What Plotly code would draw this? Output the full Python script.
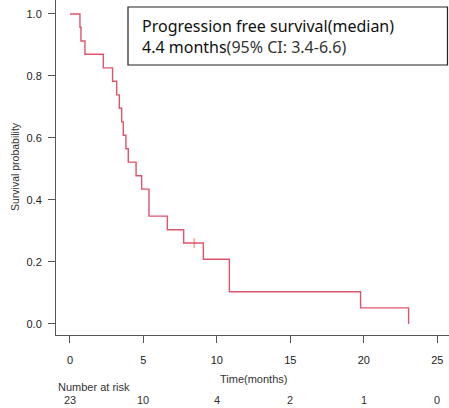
import plotly.graph_objects as go

# Kaplan-Meier step data (months, survival probability)
times = [0, 0.68, 0.75, 1.02, 2.27, 2.9, 3.18, 3.36, 3.52, 3.63, 3.81, 3.97,
         4.5, 4.88, 5.38, 6.63, 7.74, 9.08, 10.85, 19.78, 23.05]
surv = [1.0, 0.957, 0.913, 0.870, 0.826, 0.783, 0.739, 0.696, 0.652, 0.609,
        0.565, 0.522, 0.478, 0.435, 0.348, 0.304, 0.261, 0.209, 0.104, 0.052, 0.0]
censor_t = [8.45]
censor_s = [0.261]

risk_times = [0, 5, 10, 15, 20, 25]
risk_counts = ["23", "10", "4", "2", "1", "0"]

x_ticks = [0, 5, 10, 15, 20, 25]
y_ticks = [0.0, 0.2, 0.4, 0.6, 0.8, 1.0]

RED = "#DF536B"
AX = "#555555"
TXT = "#222222"
W, H = 449, 408
ML, MB = 56, 73
PW, PH = W - ML, H - MB

def px(xpix):
    return (xpix - ML) / PW

def py(ypix):
    return (PH - ypix) / PH

fig = go.Figure()
fig.add_trace(go.Scatter(x=times, y=surv, mode="lines", line=dict(color=RED, width=1.4, shape="hv"),
                         showlegend=False, hoverinfo="skip"))
fig.add_trace(go.Scatter(x=censor_t, y=censor_s, mode="markers",
                         marker=dict(symbol="line-ns-open", size=7, line=dict(color=RED, width=0.8)),
                         showlegend=False, hoverinfo="skip"))

fig.update_layout(
    width=W, height=H,
    margin=dict(l=ML, r=0, t=0, b=MB, autoexpand=False),
    plot_bgcolor="white", paper_bgcolor="white",
    font=dict(family="Liberation Sans", size=11, color=TXT),
    xaxis=dict(range=[-0.95, 25.8], tickvals=x_ticks, ticktext=[str(v) for v in x_ticks],
               showgrid=False, zeroline=False, showline=True, linecolor=AX, linewidth=1,
               ticks="outside", ticklen=7, tickcolor=AX, ticklabelstandoff=8, automargin=False),
    yaxis=dict(range=[-0.0355, 1.045], tickvals=y_ticks, ticktext=[f"{v:.1f}" for v in y_ticks],
               showgrid=False, zeroline=False, showline=True, linecolor=AX, linewidth=1,
               ticks="outside", ticklen=7, tickcolor=AX, ticklabelstandoff=4, automargin=False),
)

ann = []
ann.append(dict(text="Survival probability", x=px(15), y=py(167), xref="paper", yref="paper",
                showarrow=False, textangle=-90, font=dict(size=10.5, color="#333"),
                xanchor="center", yanchor="middle"))
ann.append(dict(text="Time(months)", x=12.5, y=py(379), xref="x", yref="paper",
                showarrow=False, font=dict(size=11, color="#333"), xanchor="center", yanchor="middle"))
ann.append(dict(text="Number at risk", x=px(56), y=py(387), xref="paper", yref="paper",
                showarrow=False, font=dict(size=11, color="#333"), xanchor="left", yanchor="middle"))
for t, c in zip(risk_times, risk_counts):
    ann.append(dict(text=c, x=t, y=py(400), xref="x", yref="paper", showarrow=False,
                    font=dict(size=11, color="#333"), xanchor="center", yanchor="middle"))

ann.append(dict(text="Progression free survival(median)", x=px(140), y=py(26), xref="paper", yref="paper",
                showarrow=False, font=dict(family="Noto Sans", size=16, color="#111"),
                xanchor="left", yanchor="middle"))
ann.append(dict(text="4.4 months<span style='color:#333'>(95% CI: 3.4-6.6)</span>", x=px(140), y=py(47),
                xref="paper", yref="paper", showarrow=False,
                font=dict(family="Noto Sans", size=16, color="#111"), xanchor="left", yanchor="middle"))
fig.update_layout(annotations=ann)

fig.add_shape(type="rect", xref="paper", yref="paper", x0=px(128), x1=px(447.5), y0=py(65), y1=py(7),
              line=dict(color="#222", width=1.2), fillcolor="rgba(0,0,0,0)")

fig.write_html("out.html", config={"displayModeBar": False},
               post_script="document.body.style.margin='0';document.body.style.overflow='hidden';")
